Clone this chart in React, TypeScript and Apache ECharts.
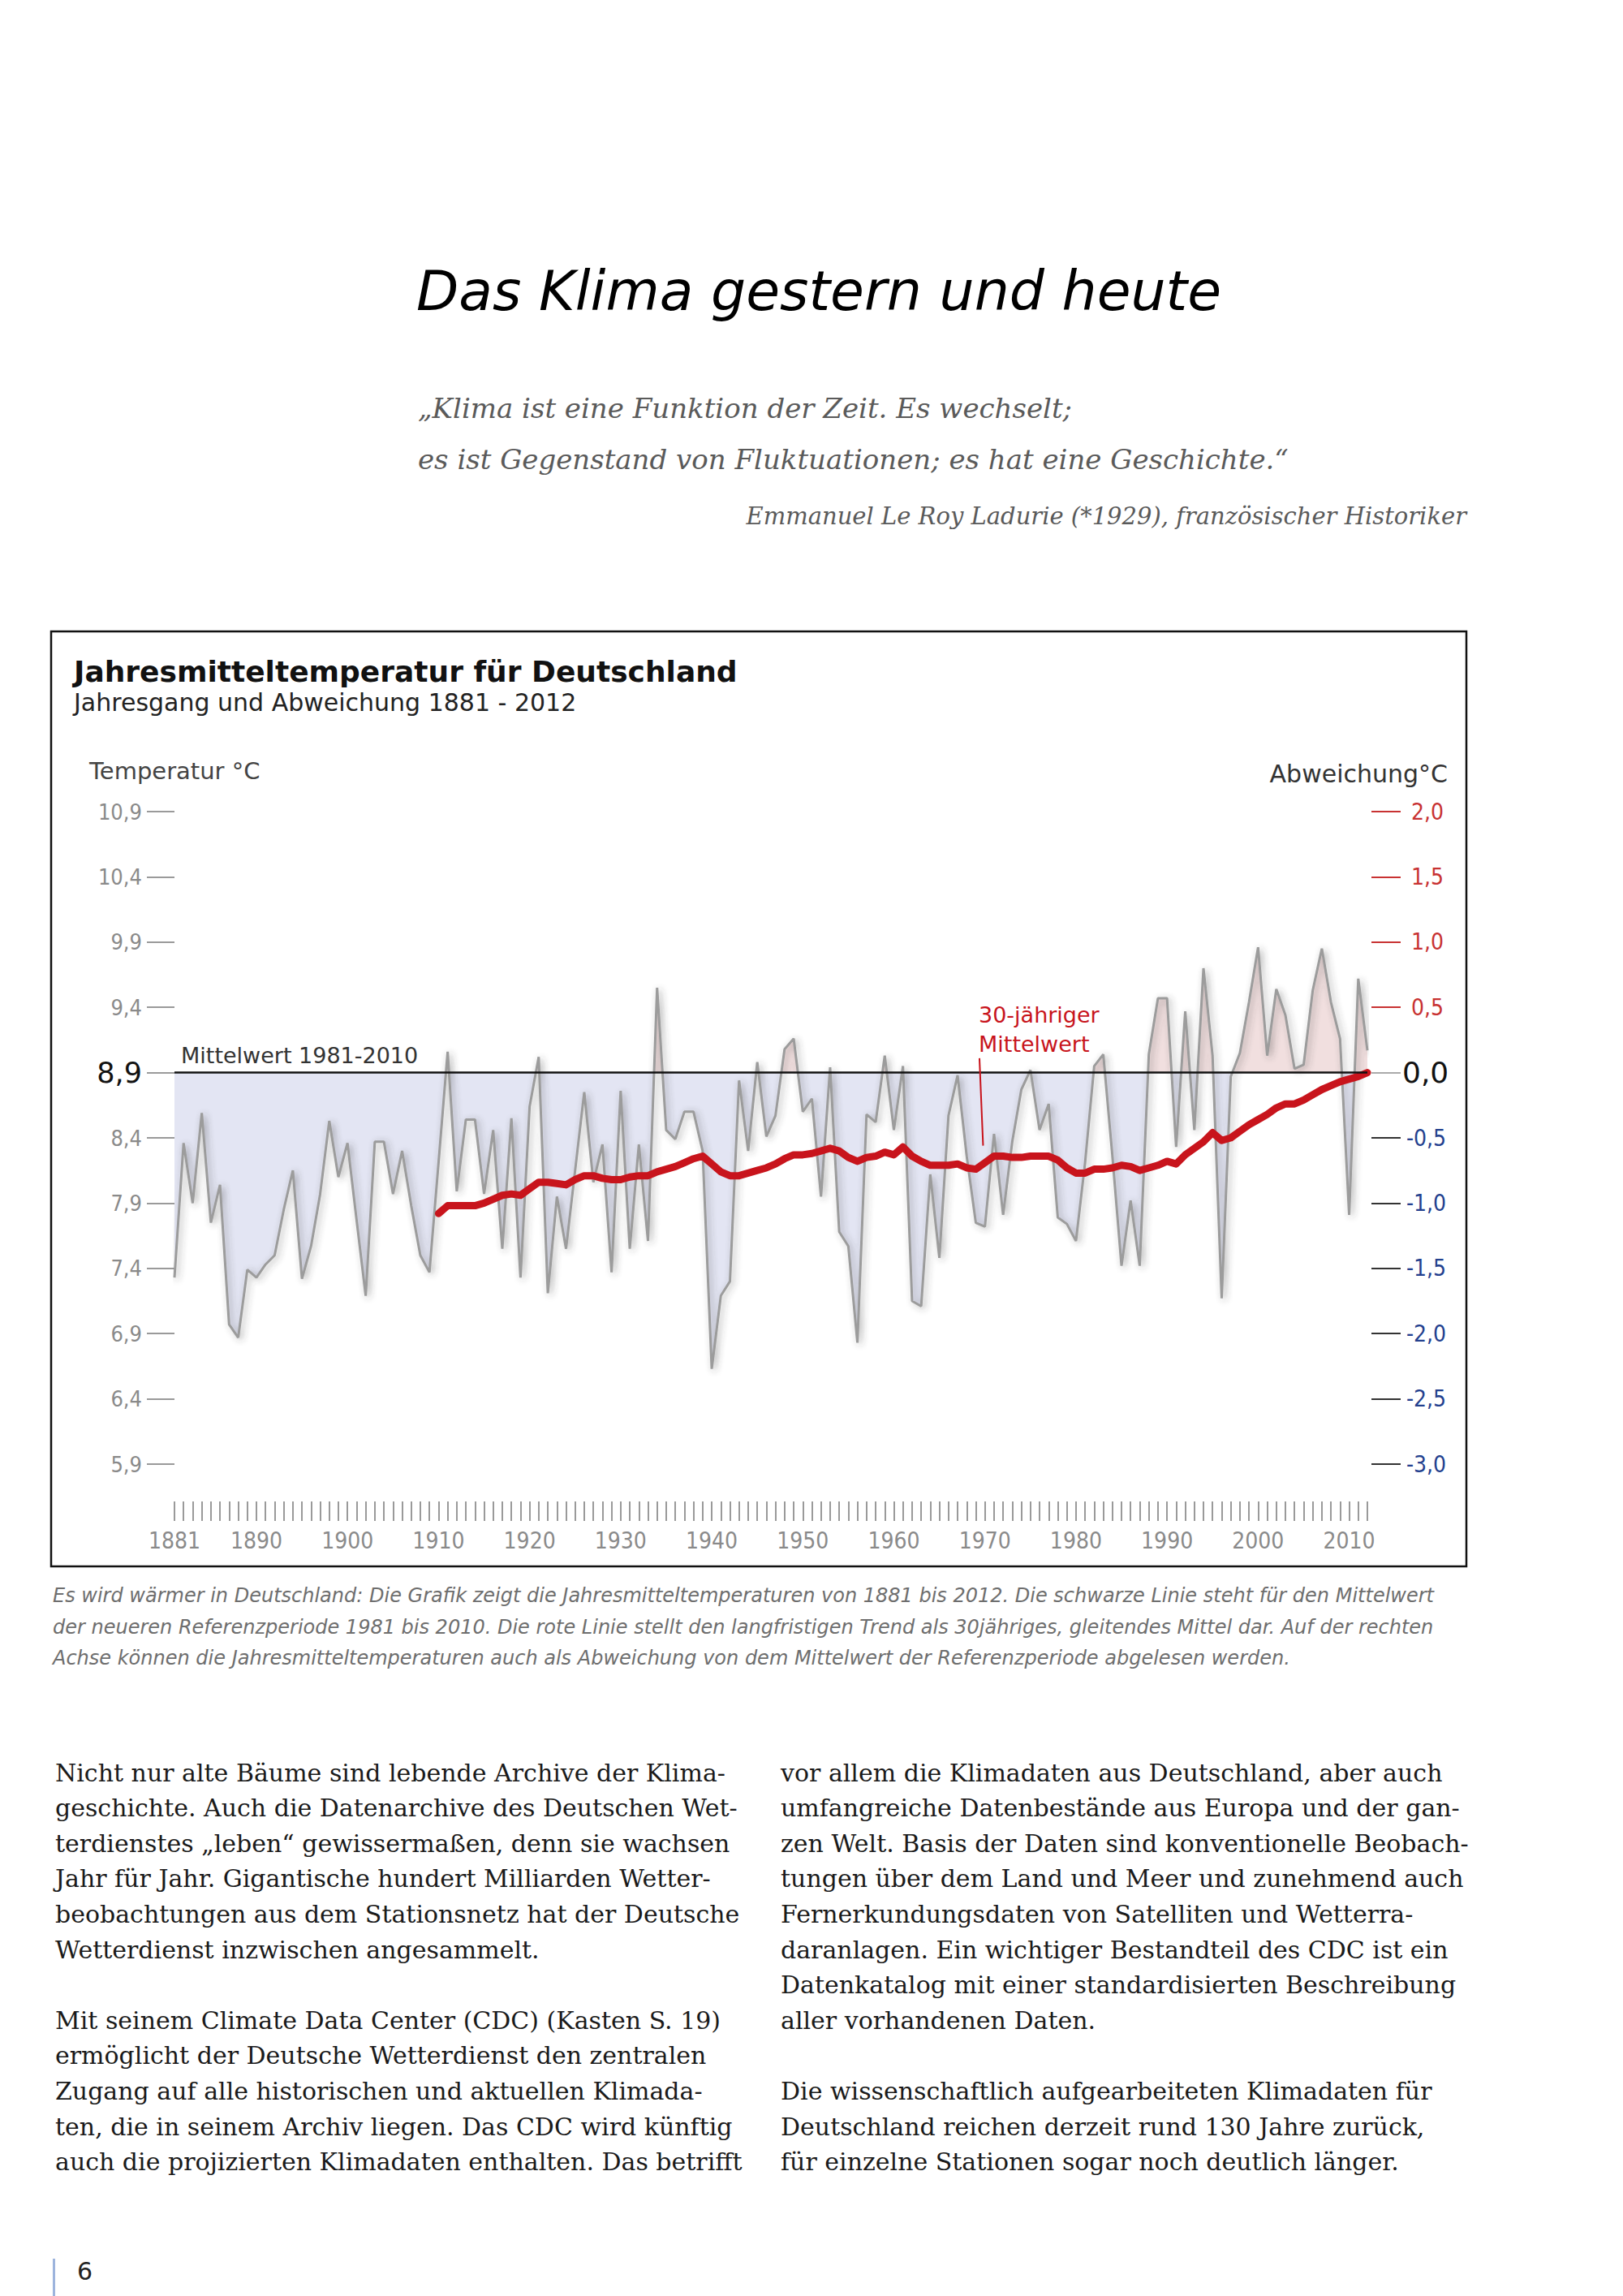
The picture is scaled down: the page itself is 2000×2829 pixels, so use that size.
import React, { useEffect, useRef } from "react";
import * as echarts from "echarts";

// ---------- data ----------
const FIRST_YEAR = 1881;
const LAST_YEAR = 2012;
// annual mean temperature Germany 1881-2012 (°C)
const temps: number[] = [
  7.33, 8.36, 7.90, 8.59, 7.75, 8.04, 6.97, 6.87, 7.39, 7.33, // 1881-1890
  7.43, 7.50, 7.85, 8.15, 7.32, 7.57, 7.97, 8.53, 8.10, 8.36, // 1891-1900
  7.77, 7.19, 8.37, 8.37, 7.97, 8.30, 7.88, 7.50, 7.37, 8.21, // 1901-1910
  9.06, 7.99, 8.54, 8.54, 7.97, 8.46, 7.55, 8.55, 7.33, 8.64, // 1911-1920
  9.02, 7.21, 7.95, 7.55, 8.15, 8.75, 8.06, 8.35, 7.37, 8.76, // 1921-1930
  7.55, 8.35, 7.61, 9.55, 8.46, 8.39, 8.60, 8.60, 8.30, 6.63, // 1931-1940
  7.19, 7.30, 8.84, 8.30, 8.98, 8.41, 8.57, 9.08, 9.16, 8.60, // 1941-1950
  8.70, 7.95, 8.94, 7.68, 7.57, 6.83, 8.58, 8.52, 9.03, 8.46, // 1951-1960
  8.95, 7.15, 7.11, 8.12, 7.48, 8.57, 8.88, 8.26, 7.75, 7.72, // 1961-1970
  8.43, 7.81, 8.37, 8.77, 8.92, 8.46, 8.66, 7.79, 7.74, 7.61, // 1971-1980
  8.21, 8.95, 9.04, 8.26, 7.42, 7.92, 7.42, 9.04, 9.47, 9.47, // 1981-1990
  8.33, 9.37, 8.46, 9.70, 9.03, 7.17, 8.87, 9.05, 9.44, 9.86, // 1991-2000
  9.03, 9.54, 9.34, 8.93, 8.96, 9.53, 9.85, 9.44, 9.16, 7.81, // 2001-2010
  9.62, 9.07, // 2011-2012
];

// 30-year running mean, 1910-2012 (°C)
const TREND_START = 1910;
const trend: number[] = [
  7.82, // 1910
  7.88, 7.88, 7.88, 7.88, 7.90, 7.93, 7.96, 7.97, 7.96, 8.01, // 1911-1920
  8.06, 8.06, 8.05, 8.04, 8.08, 8.11, 8.11, 8.09, 8.08, 8.08, // 1921-1930
  8.10, 8.11, 8.11, 8.14, 8.16, 8.18, 8.21, 8.24, 8.26, 8.20, // 1931-1940
  8.14, 8.11, 8.11, 8.13, 8.15, 8.17, 8.20, 8.24, 8.27, 8.27, // 1941-1950
  8.28, 8.30, 8.32, 8.30, 8.25, 8.22, 8.25, 8.26, 8.29, 8.27, // 1951-1960
  8.33, 8.26, 8.22, 8.19, 8.19, 8.19, 8.20, 8.17, 8.16, 8.21, // 1961-1970
  8.26, 8.26, 8.25, 8.25, 8.26, 8.26, 8.26, 8.23, 8.17, 8.13, // 1971-1980
  8.13, 8.16, 8.16, 8.17, 8.19, 8.18, 8.15, 8.17, 8.19, 8.22, // 1981-1990
  8.20, 8.27, 8.32, 8.37, 8.44, 8.38, 8.40, 8.45, 8.50, 8.54, // 1991-2000
  8.58, 8.63, 8.66, 8.66, 8.69, 8.73, 8.77, 8.80, 8.83, 8.85, // 2001-2010
  8.87, 8.90, // 2011-2012
];

const REFERENCE_MEAN = 8.9; // Mittelwert 1981-2010
const yearLabels: number[] = [1881, 1890, 1900, 1910, 1920, 1930, 1940, 1950, 1960, 1970, 1980, 1990, 2000, 2010];
const leftTicks: number[] = [5.9, 6.4, 6.9, 7.4, 7.9, 8.4, 8.9, 9.4, 9.9, 10.4, 10.9];
const rightPosTicks: number[] = [0.5, 1.0, 1.5, 2.0];
const rightNegTicks: number[] = [-3.0, -2.5, -2.0, -1.5, -1.0, -0.5];
const rightZeroTicks: number[] = [0];

// ---------- texts ----------
const pageTitle = "Das Klima gestern und heute";
const quoteLines = [
  "„Klima ist eine Funktion der Zeit. Es wechselt;",
  "es ist Gegenstand von Fluktuationen; es hat eine Geschichte.“",
];
const quoteAuthor = "Emmanuel Le Roy Ladurie (*1929), französischer Historiker";
const chartTitle = "Jahresmitteltemperatur für Deutschland";
const chartSubtitle = "Jahresgang und Abweichung 1881 - 2012";
const captionLines = [
  "Es wird wärmer in Deutschland: Die Grafik zeigt die Jahresmitteltemperaturen von 1881 bis 2012. Die schwarze Linie steht für den Mittelwert",
  "der neueren Referenzperiode 1981 bis 2010. Die rote Linie stellt den langfristigen Trend als 30jähriges, gleitendes Mittel dar. Auf der rechten",
  "Achse können die Jahresmitteltemperaturen auch als Abweichung von dem Mittelwert der Referenzperiode abgelesen werden.",
];
const leftColumn = [
  "Nicht nur alte Bäume sind lebende Archive der Klima-",
  "geschichte. Auch die Datenarchive des Deutschen Wet-",
  "terdienstes „leben“ gewissermaßen, denn sie wachsen",
  "Jahr für Jahr. Gigantische hundert Milliarden Wetter-",
  "beobachtungen aus dem Stationsnetz hat der Deutsche",
  "Wetterdienst inzwischen angesammelt.",
  "",
  "Mit seinem Climate Data Center (CDC) (Kasten S. 19)",
  "ermöglicht der Deutsche Wetterdienst den zentralen",
  "Zugang auf alle historischen und aktuellen Klimada-",
  "ten, die in seinem Archiv liegen. Das CDC wird künftig",
  "auch die projizierten Klimadaten enthalten. Das betrifft",
];
const rightColumn = [
  "vor allem die Klimadaten aus Deutschland, aber auch",
  "umfangreiche Datenbestände aus Europa und der gan-",
  "zen Welt. Basis der Daten sind konventionelle Beobach-",
  "tungen über dem Land und Meer und zunehmend auch",
  "Fernerkundungsdaten von Satelliten und Wetterra-",
  "daranlagen. Ein wichtiger Bestandteil des CDC ist ein",
  "Datenkatalog mit einer standardisierten Beschreibung",
  "aller vorhandenen Daten.",
  "",
  "Die wissenschaftlich aufgearbeiteten Klimadaten für",
  "Deutschland reichen derzeit rund 130 Jahre zurück,",
  "für einzelne Stationen sogar noch deutlich länger.",
];

const SANS = '"DejaVu Sans", Verdana, sans-serif';
const SANS_COND = '"DejaVu Sans Condensed", "DejaVu Sans", sans-serif';
const SERIF = '"DejaVu Serif", serif';

const RED = "#c8141c";
const LABEL_RED = "#c83232";
const LABEL_BLUE = "#23408e";
const PINK = "#f1dfdf";
const BLUE = "#e3e5f3";

const fmt = (v: number) => v.toFixed(1).replace(".", ",");

function text(x: number, y: number, t: string, style: any) {
  return {
    type: "text",
    silent: true,
    style: { x, y, text: t, textVerticalAlign: "middle", ...style },
  };
}

export default function App() {
  const ref = useRef<HTMLDivElement>(null);

  useEffect(() => {
    document.body.style.margin = "0";
    if (!ref.current) return;
    const chart = echarts.init(ref.current, null, { renderer: "svg" });

    const tMax = Math.max(...temps);
    const tMin = Math.min(...temps);
    const o = (tMax - REFERENCE_MEAN) / (tMax - tMin);

    const allYears = temps.map((_, i) => FIRST_YEAR + i);

    const graphics: any[] = [
      {
        type: "rect",
        silent: true,
        shape: { x: 63, y: 778, width: 1744, height: 1152 },
        style: { fill: "none", stroke: "#111", lineWidth: 2.5 },
        z: 0,
      },
      text(513, 358, pageTitle, { fontSize: 68, fontFamily: SANS, fontStyle: "italic", fill: "#000" }),
      text(515, 503, quoteLines[0], { fontSize: 34, fontFamily: SERIF, fontStyle: "italic", fill: "#5a5a5a" }),
      text(515, 566, quoteLines[1], { fontSize: 34, fontFamily: SERIF, fontStyle: "italic", fill: "#5a5a5a" }),
      text(1807, 636, quoteAuthor, { fontSize: 29, fontFamily: SERIF, fontStyle: "italic", fill: "#5a5a5a", textAlign: "right" }),
      text(91, 827, chartTitle, { fontSize: 36, fontFamily: SANS, fontWeight: "bold", fill: "#111" }),
      text(91, 865, chartSubtitle, { fontSize: 30, fontFamily: SANS, fill: "#222" }),
      text(110, 950, "Temperatur °C", { fontSize: 29, fontFamily: SANS, fill: "#444" }),
      text(1784, 953, "Abweichung°C", { fontSize: 30, fontFamily: SANS, fill: "#333", textAlign: "right" }),
      text(1206, 1250, "30-jähriger", { fontSize: 27, fontFamily: SANS, fill: RED }),
      text(1206, 1286, "Mittelwert", { fontSize: 27, fontFamily: SANS, fill: RED }),
      ...captionLines.map((l, k) =>
        text(65, 1966 + k * 38.5, l, { fontSize: 24, fontFamily: SANS, fontStyle: "italic", fill: "#6e6e6e" })
      ),
      ...leftColumn.map((l, k) =>
        text(68, 2184 + k * 43.6, l, { fontSize: 30, fontFamily: SERIF, fill: "#1a1a1a" })
      ),
      ...rightColumn.map((l, k) =>
        text(962, 2184 + k * 43.6, l, { fontSize: 30, fontFamily: SERIF, fill: "#1a1a1a" })
      ),
      {
        type: "rect",
        silent: true,
        shape: { x: 65, y: 2783, width: 3, height: 46 },
        style: { fill: "#9db4dd" },
      },
      text(95, 2798, "6", { fontSize: 30, fontFamily: SANS, fill: "#222" }),
    ];

    const rightAxisBase = {
      type: "value",
      min: -3,
      max: 2,
      position: "right",
      offset: 5,
      axisLine: { show: false, onZero: false },
      splitLine: { show: false },
    };

    const option: any = {
      animation: false,
      backgroundColor: "#ffffff",
      grid: { left: 215, right: 315, top: 1000, height: 804, containLabel: false },
      xAxis: {
        type: "value",
        min: FIRST_YEAR,
        max: LAST_YEAR,
        position: "bottom",
        offset: 46,
        axisLine: { show: false, onZero: false },
        splitLine: { show: false },
        axisTick: {
          show: true,
          customValues: allYears,
          length: 24,
          lineStyle: { color: "#9a9a9a", width: 2 },
        },
        axisLabel: {
          customValues: yearLabels,
          margin: 34,
          fontSize: 28,
          fontFamily: SANS_COND,
          color: "#8a8a8a",
          formatter: (v: number) => String(v),
        },
      },
      yAxis: [
        {
          type: "value",
          min: 5.9,
          max: 10.9,
          position: "left",
          axisLine: { show: false, onZero: false },
          splitLine: { show: false },
          axisTick: {
            show: true,
            customValues: leftTicks,
            length: 34,
            lineStyle: { color: "#9a9a9a", width: 2 },
          },
          axisLabel: {
            customValues: leftTicks,
            margin: 40,
            fontSize: 27,
            fontFamily: SANS_COND,
            color: "#8a8a8a",
            formatter: (v: number) =>
              Math.abs(v - REFERENCE_MEAN) < 1e-6 ? "{b|" + fmt(v) + "}" : fmt(v),
            rich: { b: { fontSize: 35, color: "#111", fontFamily: SANS } },
          },
        },
        {
          ...rightAxisBase,
          axisTick: {
            show: true,
            customValues: rightPosTicks,
            length: 36,
            lineStyle: { color: LABEL_RED, width: 2 },
          },
          axisLabel: {
            customValues: rightPosTicks,
            margin: 49,
            fontSize: 28,
            fontFamily: SANS_COND,
            color: LABEL_RED,
            formatter: (v: number) => fmt(v),
          },
        },
        {
          ...rightAxisBase,
          axisTick: {
            show: true,
            customValues: rightNegTicks,
            length: 36,
            lineStyle: { color: "#333", width: 2 },
          },
          axisLabel: {
            customValues: rightNegTicks,
            margin: 43,
            fontSize: 28,
            fontFamily: SANS_COND,
            color: LABEL_BLUE,
            formatter: (v: number) => fmt(v),
          },
        },
        {
          ...rightAxisBase,
          axisTick: {
            show: true,
            customValues: rightZeroTicks,
            length: 36,
            lineStyle: { color: "#aaa", width: 2 },
          },
          axisLabel: {
            customValues: rightZeroTicks,
            margin: 38,
            fontSize: 36,
            fontFamily: SANS,
            color: "#111",
            formatter: (v: number) => fmt(v),
          },
        },
      ],
      series: [
        {
          type: "line",
          name: "Jahresmittel",
          yAxisIndex: 0,
          data: temps.map((t, i) => [FIRST_YEAR + i, t]),
          symbol: "none",
          z: 2,
          lineStyle: {
            color: "#9c9c9c",
            width: 3,
            shadowColor: "rgba(60,60,60,0.45)",
            shadowBlur: 8,
            shadowOffsetX: 3,
            shadowOffsetY: 2,
          },
          areaStyle: {
            origin: REFERENCE_MEAN,
            opacity: 1,
            color: new echarts.graphic.LinearGradient(0, 0, 0, 1, [
              { offset: 0, color: PINK },
              { offset: o, color: PINK },
              { offset: o, color: BLUE },
              { offset: 1, color: BLUE },
            ]),
          },
          markLine: {
            silent: true,
            symbol: ["none", "none"],
            data: [{ yAxis: REFERENCE_MEAN }],
            lineStyle: { color: "#111", width: 2.5, type: "solid" },
            label: {
              show: true,
              position: "insideStartTop",
              formatter: "Mittelwert 1981-2010",
              color: "#333",
              fontSize: 27,
              fontFamily: SANS,
              distance: 8,
            },
          },
        },
        {
          type: "line",
          name: "30-jähriger Mittelwert",
          yAxisIndex: 0,
          data: trend.map((v, i) => [TREND_START + i, v]),
          symbol: "none",
          z: 4,
          lineStyle: { color: RED, width: 9, cap: "round", join: "round" },
          markLine: {
            silent: true,
            symbol: ["none", "none"],
            data: [[{ coord: [1969.4, 9.01] }, { coord: [1969.8, 8.34] }]],
            lineStyle: { color: RED, width: 2, type: "solid" },
            label: { show: false },
          },
        },
      ],
      graphic: graphics,
    };

    chart.setOption(option);
    return () => chart.dispose();
  }, []);

  return <div ref={ref} style={{ width: 2000, height: 2829 }} />;
}
